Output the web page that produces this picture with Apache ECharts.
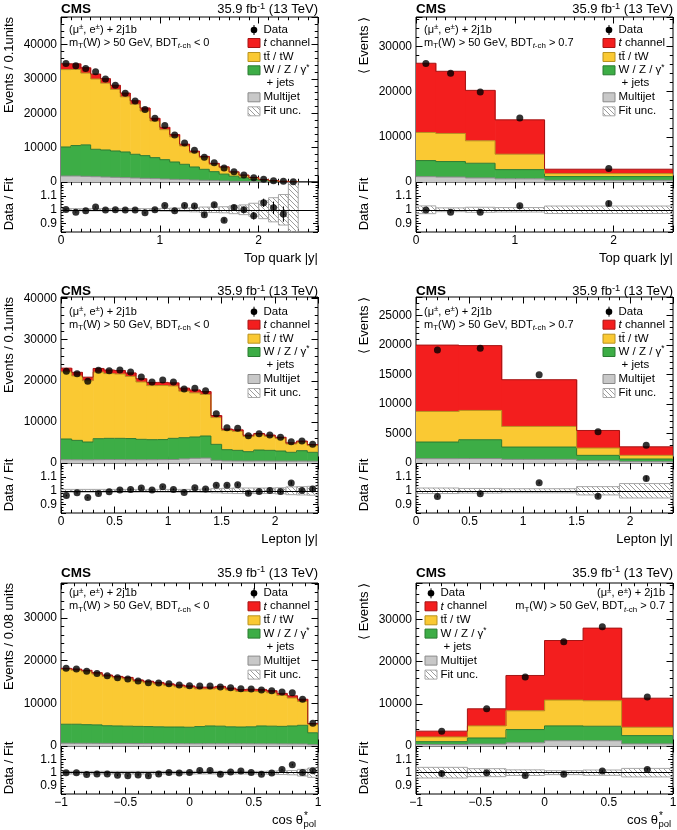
<!DOCTYPE html>
<html>
<head>
<meta charset="utf-8">
<script src="https://cdn.jsdelivr.net/npm/echarts@6.0.0/dist/echarts.min.js"></script>
<style>
  html, body { margin: 0; padding: 0; background: #fff; }
  #chart { width: 677px; height: 830px; }
</style>
</head>
<body>
<div id="chart"></div>
<script>
// ---- top quark |y|, BDT < 0 ----
var topLowEdges = [0, 0.1, 0.2, 0.3, 0.4, 0.5, 0.6, 0.7, 0.8, 0.9, 1, 1.1, 1.2, 1.3, 1.4, 1.5, 1.6, 1.7, 1.8, 1.9, 2, 2.1, 2.2, 2.3, 2.4];
var topLowMultijet = [1750, 1750, 1650, 1550, 1450, 1360, 1260, 1165, 1070, 970, 870, 780, 680, 580, 485, 390, 290, 195, 150, 100, 70, 40, 20, 8];
var topLowWZ = [8440, 8850, 9150, 7965, 7870, 7670, 7480, 6895, 6600, 6120, 5630, 5045, 4470, 3790, 3205, 2620, 2010, 1505, 1050, 700, 410, 210, 100, 27];
var topLowTT = [22510, 22125, 20890, 20445, 19440, 17920, 16040, 14580, 12970, 10650, 8720, 7315, 5320, 4160, 3380, 2120, 1880, 1090, 720, 440, 213, 105, 61, 20];
var topLowTch = [1700, 1650, 1550, 1450, 1300, 1200, 1100, 1000, 900, 800, 700, 650, 550, 450, 380, 300, 230, 170, 120, 80, 50, 30, 15, 5];
var topLowData = [34470, 33790, 33010, 32040, 30000, 28150, 25830, 23590, 21070, 18540, 16410, 13690, 11360, 9220, 7180, 5630, 4080, 3010, 2040, 1260, 780, 390, 190, 60];
var topLowRatio = [1.002, 0.983, 0.993, 1.02, 0.998, 1.0, 0.998, 0.998, 0.978, 1.0, 1.031, 0.993, 1.031, 1.027, 0.964, 1.036, 0.925, 1.017, 1.0, 0.957, 1.05, 1.014, 0.969, null];
var topLowUnc = [0.008, 0.008, 0.008, 0.008, 0.008, 0.008, 0.008, 0.008, 0.008, 0.008, 0.01, 0.012, 0.013, 0.015, 0.02, 0.02, 0.022, 0.028, 0.035, 0.047, 0.064, 0.087, 0.11, 0.3];
var topLowErr = [0.004, 0.004, 0.004, 0.004, 0.004, 0.005, 0.005, 0.005, 0.006, 0.006, 0.007, 0.008, 0.009, 0.01, 0.012, 0.013, 0.015, 0.018, 0.022, 0.028, 0.03, 0.045, 0.055, 0];

// ---- top quark |y|, BDT > 0.7 ----
var topHighEdges = [0, 0.2, 0.5, 0.8, 1.3, 2.6];
var topHighMultijet = [1180, 1100, 900, 700, 370];
var topHighWZ = [3560, 3420, 3250, 2040, 830];
var topHighTT = [6220, 6220, 4960, 3410, 650];
var topHighTch = [15310, 13750, 11160, 7600, 980];
var topHighData = [26220, 24070, 19930, 14150, 2960];
var topHighRatio = [0.998, 0.983, 0.983, 1.029, 1.045];
var topHighUnc = [0.028, 0.014, 0.018, 0.016, 0.027];
var topHighErr = [0.006, 0.006, 0.007, 0.008, 0.018];

// ---- lepton |y|, BDT < 0 ----
var lepLowEdges = [0, 0.1, 0.2, 0.3, 0.4, 0.5, 0.6, 0.7, 0.8, 0.9, 1, 1.1, 1.2, 1.3, 1.4, 1.5, 1.6, 1.7, 1.8, 1.9, 2, 2.1, 2.2, 2.3, 2.4];
var lepLowMultijet = [800, 780, 760, 800, 820, 830, 800, 790, 800, 820, 850, 1000, 1150, 1200, 650, 500, 480, 470, 480, 470, 460, 450, 460, 440];
var lepLowWZ = [5040, 4730, 4350, 5120, 5180, 5170, 5150, 4970, 4880, 4880, 5150, 5160, 5180, 5370, 3890, 2740, 2600, 2290, 2680, 2610, 2460, 2150, 2540, 2160];
var lepLowTT = [16345, 15680, 14930, 16210, 15760, 15660, 15130, 13950, 13150, 13150, 12750, 11320, 10730, 10120, 6510, 4660, 4625, 3675, 3685, 3400, 3050, 2035, 2070, 1640];
var lepLowTch = [900, 880, 850, 880, 870, 860, 840, 800, 780, 770, 760, 740, 720, 700, 500, 380, 370, 330, 330, 320, 300, 280, 270, 250];
var lepLowData = [22300, 21740, 19870, 22550, 22470, 22630, 22140, 20920, 19710, 20190, 19710, 18000, 18170, 17600, 12000, 8600, 8430, 6650, 7140, 6810, 6240, 5190, 5350, 4540];
var lepLowRatio = [0.966, 0.985, 0.951, 0.98, 0.993, 1.005, 1.01, 1.02, 1.005, 1.029, 1.01, 0.988, 1.022, 1.012, 1.039, 1.039, 1.044, 0.983, 0.995, 1.002, 0.995, 1.056, 1.002, 1.012];
var lepLowUnc = [0.01, 0.01, 0.01, 0.01, 0.01, 0.01, 0.01, 0.01, 0.01, 0.01, 0.01, 0.01, 0.01, 0.012, 0.015, 0.018, 0.02, 0.02, 0.02, 0.02, 0.022, 0.028, 0.03, 0.032];
var lepLowErr = [0.006, 0.006, 0.006, 0.006, 0.006, 0.006, 0.006, 0.006, 0.006, 0.006, 0.006, 0.006, 0.006, 0.006, 0.008, 0.01, 0.01, 0.011, 0.011, 0.011, 0.012, 0.013, 0.013, 0.014];

// ---- lepton |y|, BDT > 0.7 ----
var lepHighEdges = [0, 0.4, 0.8, 1.5, 1.9, 2.4];
var lepHighMultijet = [730, 740, 620, 395, 225];
var lepHighWZ = [2820, 3200, 2080, 900, 450];
var lepHighTT = [5180, 4960, 3490, 1235, 620];
var lepHighTch = [11230, 10970, 7910, 2975, 1445];
var lepHighData = [19140, 19430, 14920, 5290, 2985];
var lepHighRatio = [0.959, 0.978, 1.058, 0.961, 1.089];
var lepHighUnc = [0.02, 0.017, 0.015, 0.03, 0.052];
var lepHighErr = [0.007, 0.007, 0.008, 0.013, 0.018];

// ---- cos theta*pol, BDT < 0 ----
var cosLowEdges = [-1, -0.92, -0.84, -0.76, -0.68, -0.6, -0.52, -0.44, -0.36, -0.28, -0.2, -0.12, -0.04, 0.04, 0.12, 0.2, 0.28, 0.36, 0.44, 0.52, 0.6, 0.68, 0.76, 0.84, 0.92, 1];
var cosLowMultijet = [650, 640, 630, 620, 610, 600, 590, 580, 570, 560, 550, 540, 530, 530, 530, 530, 530, 520, 510, 500, 500, 490, 480, 470, 300];
var cosLowWZ = [4450, 4460, 4370, 4330, 4140, 4100, 4060, 4020, 3980, 3940, 3900, 3910, 3870, 4020, 4170, 4120, 3970, 3930, 3990, 4200, 4150, 4110, 4220, 4380, 2800];
var cosLowTT = [12800, 12630, 12420, 11910, 11550, 11260, 11065, 10510, 10255, 10010, 9710, 9440, 9270, 8825, 8665, 8870, 8620, 8330, 8320, 8070, 7815, 7225, 6545, 5610, 1905];
var cosLowTch = [300, 310, 320, 330, 340, 350, 360, 370, 380, 390, 400, 410, 420, 430, 440, 450, 460, 470, 480, 490, 500, 510, 520, 500, 250];
var cosLowData = [18200, 18040, 17490, 17020, 16470, 16000, 15690, 15220, 14820, 14750, 14590, 14270, 14120, 14040, 14040, 13800, 13650, 13410, 13330, 13100, 12940, 12630, 12470, 10980, 5330];
var cosLowRatio = [1.0, 1.0, 0.986, 0.99, 0.99, 0.981, 0.976, 0.983, 0.976, 0.99, 1.002, 0.998, 1.002, 1.017, 1.017, 0.988, 1.005, 1.012, 1.002, 0.988, 0.998, 1.024, 1.06, 1.002, 1.014];
var cosLowUnc = [0.01, 0.01, 0.01, 0.01, 0.01, 0.01, 0.01, 0.01, 0.01, 0.01, 0.01, 0.01, 0.01, 0.01, 0.01, 0.01, 0.01, 0.01, 0.01, 0.01, 0.012, 0.014, 0.016, 0.025, 0.035];
var cosLowErr = [0.006, 0.006, 0.006, 0.006, 0.006, 0.006, 0.006, 0.006, 0.006, 0.006, 0.006, 0.006, 0.006, 0.006, 0.006, 0.006, 0.006, 0.006, 0.006, 0.006, 0.006, 0.006, 0.007, 0.008, 0.012];

// ---- cos theta*pol, BDT > 0.7 ----
var cosHighEdges = [-1, -0.6, -0.3, 0, 0.3, 0.6, 1];
var cosHighMultijet = [350, 450, 750, 1250, 1250, 500];
var cosHighWZ = [680, 1450, 3140, 3510, 3430, 1960];
var cosHighTT = [1110, 2860, 4440, 6110, 6030, 1980];
var cosHighTch = [1375, 4050, 8370, 14110, 17205, 6880];
var cosHighData = [3490, 8810, 16350, 24680, 28250, 11590];
var cosHighRatio = [0.993, 1.0, 0.979, 0.988, 1.012, 1.024];
var cosHighUnc = [0.04, 0.03, 0.021, 0.015, 0.02, 0.032];
var cosHighErr = [0.02, 0.01, 0.008, 0.006, 0.006, 0.009];

// ---- layout / style ----
var FONT = '"Liberation Sans", Arial, Helvetica, sans-serif';
var FILL = ['#c8c8c8', '#3dad46', '#fac933', '#f31e1e'];
var EDGE = ['#8a8a8a', '#2a7b31', '#b8921f', '#a51515'];
var ROW_TOP = [17, 297, 583];
var ROW_MAIN_H = [165, 166, 163];
var ROW_RATIO_H = [50, 50, 48];
var TITLE_Y = [9.5, 291.5, 573];
var LEGEND_Y = [30, 311.7, 593.3];
var LEGEND_STEP = [0, 13, 27, 40.3, 53.3, 67.3, 81.3];
var COL_LEFT = [61, 416];
var FRAME_W = 257;
var RATIO_MIN = 0.84, RATIO_MAX = 1.2;

var panels = [
  {row: 0, col: 0, edges: topLowEdges, mj: topLowMultijet, wz: topLowWZ, tt: topLowTT, tch: topLowTch,
   data: topLowData, ratio: topLowRatio, unc: topLowUnc, err: topLowErr,
   x: [0, 2.6, 1, 0.1], y: [0, 48000, 10000, 2000], yTitle: 'Events / 0.1units', xTitle: 'Top quark |y|', cut: '< 0'},
  {row: 0, col: 1, edges: topHighEdges, mj: topHighMultijet, wz: topHighWZ, tt: topHighTT, tch: topHighTch,
   data: topHighData, ratio: topHighRatio, unc: topHighUnc, err: topHighErr,
   x: [0, 2.6, 1, 0.1], y: [0, 36500, 10000, 2000], yTitle: '\u27E8 Events \u27E9', xTitle: 'Top quark |y|', cut: '> 0.7'},
  {row: 1, col: 0, edges: lepLowEdges, mj: lepLowMultijet, wz: lepLowWZ, tt: lepLowTT, tch: lepLowTch,
   data: lepLowData, ratio: lepLowRatio, unc: lepLowUnc, err: lepLowErr,
   x: [0, 2.4, 0.5, 0.1], y: [0, 40400, 10000, 2000], yTitle: 'Events / 0.1units', xTitle: 'Lepton |y|', cut: '< 0'},
  {row: 1, col: 1, edges: lepHighEdges, mj: lepHighMultijet, wz: lepHighWZ, tt: lepHighTT, tch: lepHighTch,
   data: lepHighData, ratio: lepHighRatio, unc: lepHighUnc, err: lepHighErr,
   x: [0, 2.4, 0.5, 0.1], y: [0, 28100, 5000, 1000], yTitle: '\u27E8 Events \u27E9', xTitle: 'Lepton |y|', cut: '> 0.7'},
  {row: 2, col: 0, edges: cosLowEdges, mj: cosLowMultijet, wz: cosLowWZ, tt: cosLowTT, tch: cosLowTch,
   data: cosLowData, ratio: cosLowRatio, unc: cosLowUnc, err: cosLowErr,
   x: [-1, 1, 0.5, 0.1], y: [0, 38200, 10000, 2000], yTitle: 'Events / 0.08 units', xTitle: null, cut: '< 0'},
  {row: 2, col: 1, edges: cosHighEdges, mj: cosHighMultijet, wz: cosHighWZ, tt: cosHighTT, tch: cosHighTch,
   data: cosHighData, ratio: cosHighRatio, unc: cosHighUnc, err: cosHighErr,
   x: [-1, 1, 0.5, 0.1], y: [0, 38600, 10000, 2000], yTitle: '\u27E8 Events \u27E9', xTitle: null, cut: '> 0.7', legendLeft: true}
];

// hatch pattern for the fit uncertainty
var hatch = (function () {
  var c = document.createElement('canvas');
  c.width = 5; c.height = 5;
  var ctx = c.getContext('2d');
  ctx.strokeStyle = '#9c9c9c';
  ctx.lineWidth = 1;
  ctx.beginPath();
  for (var k = -5; k <= 10; k += 5) { ctx.moveTo(k, 0); ctx.lineTo(k + 5, 5); }
  ctx.stroke();
  return {image: c, repeat: 'repeat'};
})();

var grids = [], xAxes = [], yAxes = [], series = [], graphics = [];

function fmtNum(v) {
  return String(parseFloat(v.toFixed(4))).replace('-', '\u2212');
}
function tickFormatter(step, lo, hi) {
  return function (v) {
    if (Math.abs(v / step - Math.round(v / step)) > 1e-6) return '';
    if (lo != null && (v < lo || v > hi)) return '';
    return fmtNum(v);
  };
}
function labelStyle(fmt, margin) {
  return {show: true, color: '#000', fontFamily: FONT, fontSize: 12, margin: margin, formatter: fmt};
}

// major + minor ticks on both sides; returns index of the labelled axis
function addAxes(list, g, dim, min, max, major, minor, tickLen, label) {
  var first = list.length;
  var sides = dim === 'x' ? ['bottom', 'top'] : ['left', 'right'];
  sides.forEach(function (side, si) {
    [[major, tickLen], [minor, tickLen * 0.5]].forEach(function (t, ti) {
      var ax = {
        type: 'value', gridIndex: g, position: side, min: min, max: max,
        axisLine: {show: false, onZero: false}, splitLine: {show: false},
        axisTick: {show: true, inside: true, length: t[1], lineStyle: {color: '#000', width: 1}},
        axisLabel: (si === 0 && ti === 0 && label) ? label : {show: false}
      };
      if (t[0] != null) ax.interval = t[0]; else ax.splitNumber = 4;
      list.push(ax);
    });
  });
  return first;
}

function renderStack(fill, edge) {
  return function (params, api) {
    var x0 = api.value(0), x1 = api.value(1), lo = api.value(2), hi = api.value(3), nx = api.value(4);
    var a = api.coord([x0, hi]), b = api.coord([x1, lo]), n = api.coord([x1, nx]);
    return {type: 'group', children: [
      {type: 'rect', z2: 0, shape: {x: a[0], y: a[1], width: b[0] - a[0] + 0.6, height: b[1] - a[1]}, style: {fill: fill}},
      {type: 'polyline', z2: 10, shape: {points: [[a[0], a[1]], [b[0], a[1]], [n[0], n[1]]]},
       style: {stroke: edge, fill: null, lineWidth: 1}}
    ]};
  };
}
function renderBox(params, api) {
  var a = api.coord([api.value(0), api.value(3)]), b = api.coord([api.value(1), api.value(2)]);
  return {type: 'rect', shape: {x: a[0], y: a[1], width: b[0] - a[0], height: b[1] - a[1]},
    style: {fill: hatch, stroke: '#a8a8a8', lineWidth: 1}};
}
function renderErr(params, api) {
  var a = api.coord([api.value(0), api.value(1)]), b = api.coord([api.value(0), api.value(2)]);
  return {type: 'line', shape: {x1: a[0], y1: a[1], x2: b[0], y2: b[1]}, style: {stroke: '#000', lineWidth: 1}};
}

function richStyles(size) {
  var s = size * 0.72;
  return {
    sup: {fontFamily: FONT, fontSize: s, fill: '#000', padding: [0, 0, size * 0.5, 0]},
    sub: {fontFamily: FONT, fontSize: s, fill: '#000', padding: [size * 0.55, 0, 0, 0]},
    subi: {fontFamily: FONT, fontSize: s, fontStyle: 'italic', fill: '#000', padding: [size * 0.55, 0, 0, 0]},
    it: {fontFamily: FONT, fontSize: size, fontStyle: 'italic', fill: '#000'}
  };
}
function addText(x, y, text, size, align, opts) {
  opts = opts || {};
  graphics.push({
    type: 'text', x: x, y: y, rotation: opts.rotation || 0, silent: true, z: 100,
    style: {
      text: text, fill: '#000', fontFamily: FONT, fontSize: size, fontWeight: opts.bold ? 'bold' : 'normal',
      align: align, verticalAlign: 'middle', textAlign: align, textVerticalAlign: 'middle',
      rich: richStyles(size)
    }
  });
}

panels.forEach(function (p) {
  var left = COL_LEFT[p.col], top = ROW_TOP[p.row];
  var mh = ROW_MAIN_H[p.row], rh = ROW_RATIO_H[p.row];
  var right = left + FRAME_W;
  var gMain = grids.length;
  var gridStyle = {show: true, borderColor: '#000', borderWidth: 1, backgroundColor: '#fff', containLabel: false, outerBoundsMode: 'none'};
  grids.push(Object.assign({left: left, top: top, width: FRAME_W, height: mh}, gridStyle));
  grids.push(Object.assign({left: left, top: top + mh, width: FRAME_W, height: rh}, gridStyle));

  var xm = addAxes(xAxes, gMain, 'x', p.x[0], p.x[1], p.x[2], p.x[3], 6.5, null);
  var ym = addAxes(yAxes, gMain, 'y', p.y[0], p.y[1], p.y[2], p.y[3], 6.5,
    labelStyle(tickFormatter(p.y[2]), 4));
  var xr = addAxes(xAxes, gMain + 1, 'x', p.x[0], p.x[1], p.x[2], p.x[3], 6.5,
    labelStyle(tickFormatter(p.x[2]), 3));
  var yr = addAxes(yAxes, gMain + 1, 'y', RATIO_MIN, RATIO_MAX, null, 0.02, 5,
    labelStyle(tickFormatter(0.1, 0.85, 1.15), 4));

  // stacked processes
  var comps = [p.mj, p.wz, p.tt, p.tch];
  var n = p.data.length;
  var cum = [[], [], [], []];
  for (var i = 0; i < n; i++) {
    var s = 0;
    for (var c = 0; c < 4; c++) { var lo = s; s += comps[c][i]; cum[c][i] = [lo, s]; }
  }
  for (var c2 = 0; c2 < 4; c2++) {
    var items = [];
    for (var j = 0; j < n; j++) {
      items.push([p.edges[j], p.edges[j + 1], cum[c2][j][0], cum[c2][j][1],
        j < n - 1 ? cum[c2][j + 1][1] : cum[c2][j][0]]);
    }
    series.push({type: 'custom', xAxisIndex: xm, yAxisIndex: ym, renderItem: renderStack(FILL[c2], EDGE[c2]),
      data: items, z: 2, silent: true, clip: true, encode: {x: [0, 1], y: [2, 3]}});
  }

  var ratioBox = [], dataPts = [], ratioPts = [], ratioErr = [];
  for (var k = 0; k < n; k++) {
    var x0 = p.edges[k], x1 = p.edges[k + 1], xc = (x0 + x1) / 2;
    ratioBox.push([x0, x1, 1 - p.unc[k], 1 + p.unc[k]]);
    dataPts.push([xc, p.data[k]]);
    if (p.ratio[k] != null) {
      ratioPts.push([xc, p.ratio[k]]);
      ratioErr.push([xc, p.ratio[k] - p.err[k], p.ratio[k] + p.err[k]]);
    }
  }
  series.push({type: 'scatter', xAxisIndex: xm, yAxisIndex: ym, data: dataPts, symbol: 'circle', symbolSize: 7,
    itemStyle: {color: '#000'}, z: 5, silent: true});

  series.push({type: 'custom', xAxisIndex: xr, yAxisIndex: yr, renderItem: renderBox, data: ratioBox,
    z: 2, silent: true, clip: true, encode: {x: [0, 1], y: [2, 3]}});
  series.push({type: 'custom', xAxisIndex: xr, yAxisIndex: yr, renderItem: renderErr, data: ratioErr,
    z: 4, silent: true, clip: true, encode: {x: 0, y: [1, 2]},
    markLine: {silent: true, symbol: 'none', label: {show: false}, animation: false,
      lineStyle: {color: '#000', width: 1, type: 'solid'}, data: [{yAxis: 1}]}});
  series.push({type: 'scatter', xAxisIndex: xr, yAxisIndex: yr, data: ratioPts, symbol: 'circle', symbolSize: 7,
    itemStyle: {color: '#000'}, z: 5, silent: true});

  // headers
  addText(left, TITLE_Y[p.row], 'CMS', 13.5, 'left', {bold: true});
  addText(right, TITLE_Y[p.row], '35.9 fb{sup|-1} (13 TeV)', 13, 'right');
  // axis titles
  addText(left - 52, top, p.yTitle, 13, 'right', {rotation: Math.PI / 2});
  addText(left - 52, top + mh + 22, 'Data / Fit', 13, 'center', {rotation: Math.PI / 2});
  var xtY = top + mh + rh + 26.5;
  if (p.xTitle) {
    addText(right, xtY, p.xTitle, 13, 'right');
  } else {
    addText(right - 15, xtY, 'cos \u03B8', 13, 'right');
    addText(right - 14.5, xtY + 4, 'pol', 9.5, 'left');
    addText(right - 14, xtY - 4.5, '*', 10, 'left');
  }

  // selection text and legend
  var ly = LEGEND_Y[p.row];
  var line1 = '(\u03BC{sup|\u00B1}, e{sup|\u00B1}) + 2j1b';
  var line2 = 'm{sub|T}(W) > 50 GeV, BDT{subi|t}{sub|-ch} ' + p.cut;
  var bx;
  if (p.legendLeft) {
    addText(right - 8, ly, line1, 11, 'right');
    addText(right - 8, ly + LEGEND_STEP[1], line2, 11, 'right');
    bx = left + 9;
  } else {
    addText(left + 8, ly, line1, 11, 'left');
    addText(left + 8, ly + LEGEND_STEP[1], line2, 11, 'left');
    bx = right - 70;
  }
  var tx = bx + 15.5;
  graphics.push({type: 'line', silent: true, z: 100, shape: {x1: bx + 6, y1: ly - 5, x2: bx + 6, y2: ly + 5},
    style: {stroke: '#000', lineWidth: 1}});
  graphics.push({type: 'circle', silent: true, z: 100, shape: {cx: bx + 6, cy: ly, r: 3.3}, style: {fill: '#000'}});
  addText(tx, ly, 'Data', 11.5, 'left');
  var entries = [
    [1, 3, '{it|t} channel'],
    [2, 2, 'tt\u0304 / tW'],
    [3, 1, 'W / Z / \u03B3{sup|*}'],
    [5, 0, 'Multijet']
  ];
  entries.forEach(function (e) {
    var yy = ly + LEGEND_STEP[e[0]];
    graphics.push({type: 'rect', silent: true, z: 100, shape: {x: bx, y: yy - 4.5, width: 12, height: 9},
      style: {fill: FILL[e[1]], stroke: EDGE[e[1]], lineWidth: 1}});
    addText(tx, yy, e[2], 11.5, 'left');
  });
  addText(tx + 3, ly + LEGEND_STEP[4], '+ jets', 11.5, 'left');
  var fy = ly + LEGEND_STEP[6];
  graphics.push({type: 'rect', silent: true, z: 100, shape: {x: bx, y: fy - 4.5, width: 12, height: 9},
    style: {fill: hatch, stroke: '#a8a8a8', lineWidth: 1}});
  addText(tx, fy, 'Fit unc.', 11.5, 'left');
});

var chart = echarts.init(document.getElementById('chart'), null, {renderer: 'canvas'});
chart.setOption({
  animation: false,
  backgroundColor: '#fff',
  grid: grids,
  xAxis: xAxes,
  yAxis: yAxes,
  series: series,
  graphic: {elements: graphics}
});
</script>
</body>
</html>
